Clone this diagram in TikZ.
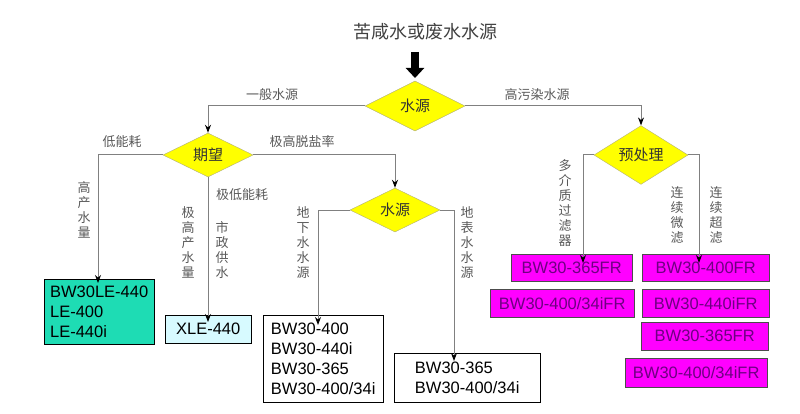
\documentclass[tikz,border=0pt]{standalone}
\usepackage{fontspec}
\setmainfont{Liberation Sans}
\newfontfamily\cjk{Noto Sans CJK SC}
\usetikzlibrary{shapes.geometric,arrows.meta}
\definecolor{fuchsia}{RGB}{255,0,255}
\definecolor{plum}{RGB}{110,0,130}
\definecolor{aqua}{RGB}{30,220,180}
\definecolor{ice}{RGB}{215,250,255}
\definecolor{sun}{RGB}{255,255,0}
\begin{document}
\begin{tikzpicture}[x=1pt,y=-1pt,
    % Stili
    decision/.style={diamond, draw=gray!70!yellow, fill=sun, inner sep=0pt, minimum width=90pt, minimum height=44pt, font=\cjk\fontsize{15}{15}\selectfont, text=black!80},
    model/.style={draw, anchor=north west, align=left, inner sep=3pt, font=\fontsize{16.5}{20}\selectfont},
    filter/.style={draw=black!70, fill=fuchsia, anchor=north west, inner sep=0pt, font=\fontsize{16.5}{18}\selectfont, text=plum},
    lbl/.style={font=\cjk\fontsize{13}{15}\selectfont, text=black!65},
    vlbl/.style={lbl, align=center, anchor=north},
    flow/.style={draw=gray, line width=1pt, -{Stealth[length=8pt,width=6pt,color=black]}}]
    \useasboundingbox (0,0) rectangle (800,414);

    % Titolo
    \node[font=\cjk\fontsize{18}{18}\selectfont, text=black!75] (title) at (425,32) {苦咸水或废水水源};
    \draw[-{Triangle[length=10pt,width=18pt]}, line width=8pt] (415,52) -- (415,78);

    % Rombi
    \node[decision, minimum width=100pt, minimum height=50pt] (src) at (415,106) {水源};
    \node[decision] (goal) at (208,155) {期望};
    \node[decision] (src2) at (395,210) {水源};
    \node[decision, minimum width=94pt] (pre) at (641,155) {预处理};

    % Scatole
    \node[model, fill=aqua, minimum width=110pt, minimum height=65pt] (le) at (44,279) {BW30LE-440\\LE-400\\LE-440i};
    \node[model, fill=ice, minimum width=86pt, minimum height=28pt] (xle) at (165,315) {XLE-440};
    \node[model, minimum width=120pt, minimum height=87pt] (bwg) at (263,315) {BW30-400\\BW30-440i\\BW30-365\\BW30-400/34i};
    \node[model, minimum width=146pt, minimum height=49pt] (bws) at (394,353) {BW30-365\\BW30-400/34i};
    \node[filter, minimum width=121pt, minimum height=27pt] (fa) at (511,254) {BW30-365FR};
    \node[filter, minimum width=144pt, minimum height=28pt] (fb) at (490,289) {BW30-400/34iFR};
    \node[filter, minimum width=127pt, minimum height=27pt] (fc) at (642,254) {BW30-400FR};
    \node[filter, minimum width=127pt, minimum height=28pt] (fd) at (642,289) {BW30-440iFR};
    \node[filter, minimum width=127pt, minimum height=28pt] (fe) at (641,322) {BW30-365FR};
    \node[filter, minimum width=142pt, minimum height=29pt] (ff) at (625,358) {BW30-400/34iFR};

    % Frecce
    \draw[flow] (src.west) -| (goal.north);
    \draw[flow] (src.east) -| (pre.north);
    \draw[flow] (goal.west) -| ([xshift=54pt,yshift=-4pt]le.north west);
    \draw[flow] (goal.south) -- ([yshift=-7pt]goal.south |- xle.north);
    \draw[flow] (goal.east) -| (src2.north);
    \draw[flow] (src2.west) -| ([xshift=55pt,yshift=-10pt]bwg.north west);
    \draw[flow] (src2.east) -| ([xshift=60pt,yshift=-8pt]bws.north west);
    \draw[flow] (pre.west) -| ([xshift=72pt,yshift=-9pt]fa.north west);
    \draw[flow] (pre.east) -| ([xshift=57pt,yshift=-9pt]fc.north west);

    % Etichette
    \node[lbl] at (272,95) {一般水源};
    \node[lbl] at (537,95) {高污染水源};
    \node[lbl] at (122,142) {低能耗};
    \node[lbl] at (302,142) {极高脱盐率};
    \node[lbl] at (242,195) {极低能耗};
    \node[vlbl] at (84,178) {高\\产\\水\\量};
    \node[vlbl] at (188,203) {极\\高\\产\\水\\量};
    \node[vlbl] at (222,218) {市\\政\\供\\水};
    \node[vlbl] at (303,203) {地\\下\\水\\水\\源};
    \node[vlbl] at (467,203) {地\\表\\水\\水\\源};
    \node[vlbl] at (565,156) {多\\介\\质\\过\\滤\\器};
    \node[vlbl] at (677,183) {连\\续\\微\\滤};
    \node[vlbl] at (716,183) {连\\续\\超\\滤};
\end{tikzpicture}
\end{document}
